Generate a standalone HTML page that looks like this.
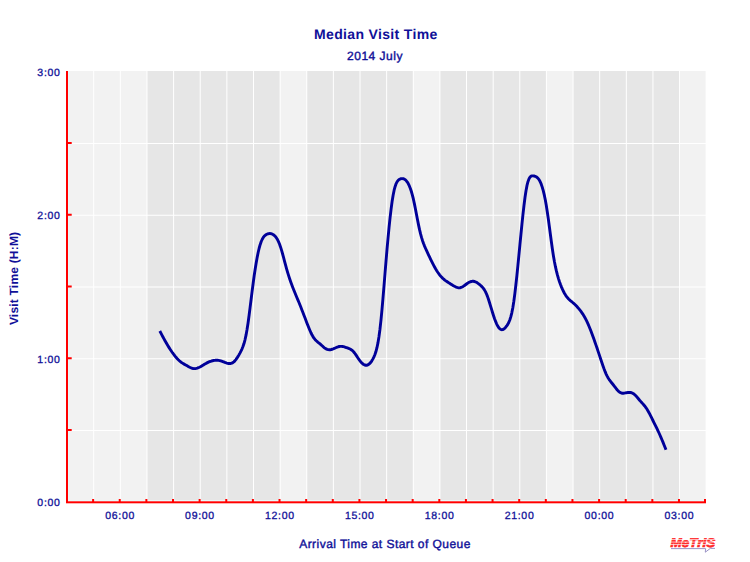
<!DOCTYPE html>
<html><head><meta charset="utf-8"><style>
html,body{margin:0;padding:0;background:#fff;}
svg{display:block;}
</style></head><body>
<svg width="750" height="562" viewBox="0 0 750 562" text-rendering="geometricPrecision">
<rect x="0" y="0" width="750" height="562" fill="#fff"/>
<rect x="68" y="71" width="78.97" height="430" fill="#f2f2f2"/>
<rect x="146.97" y="71" width="133.15" height="430" fill="#e6e6e6"/>
<rect x="280.12" y="71" width="26.63" height="430" fill="#f2f2f2"/>
<rect x="306.75" y="71" width="106.52" height="430" fill="#e6e6e6"/>
<rect x="413.27" y="71" width="26.63" height="430" fill="#f2f2f2"/>
<rect x="439.9" y="71" width="106.52" height="430" fill="#e6e6e6"/>
<rect x="546.42" y="71" width="26.63" height="430" fill="#f2f2f2"/>
<rect x="573.05" y="71" width="106.52" height="430" fill="#e6e6e6"/>
<rect x="679.57" y="71" width="26.03" height="430" fill="#f2f2f2"/>
<rect x="93.21" y="71" width="1" height="430" fill="#fff"/>
<rect x="119.84" y="71" width="1" height="430" fill="#fff"/>
<rect x="146.47" y="71" width="1" height="430" fill="#fff"/>
<rect x="173.10" y="71" width="1" height="430" fill="#fff"/>
<rect x="199.73" y="71" width="1" height="430" fill="#fff"/>
<rect x="226.36" y="71" width="1" height="430" fill="#fff"/>
<rect x="252.99" y="71" width="1" height="430" fill="#fff"/>
<rect x="279.62" y="71" width="1" height="430" fill="#fff"/>
<rect x="306.25" y="71" width="1" height="430" fill="#fff"/>
<rect x="332.88" y="71" width="1" height="430" fill="#fff"/>
<rect x="359.51" y="71" width="1" height="430" fill="#fff"/>
<rect x="386.14" y="71" width="1" height="430" fill="#fff"/>
<rect x="412.77" y="71" width="1" height="430" fill="#fff"/>
<rect x="439.40" y="71" width="1" height="430" fill="#fff"/>
<rect x="466.03" y="71" width="1" height="430" fill="#fff"/>
<rect x="492.66" y="71" width="1" height="430" fill="#fff"/>
<rect x="519.29" y="71" width="1" height="430" fill="#fff"/>
<rect x="545.92" y="71" width="1" height="430" fill="#fff"/>
<rect x="572.55" y="71" width="1" height="430" fill="#fff"/>
<rect x="599.18" y="71" width="1" height="430" fill="#fff"/>
<rect x="625.81" y="71" width="1" height="430" fill="#fff"/>
<rect x="652.44" y="71" width="1" height="430" fill="#fff"/>
<rect x="679.07" y="71" width="1" height="430" fill="#fff"/>
<rect x="68" y="430.0" width="638" height="1" fill="#fff"/>
<rect x="68" y="358.25" width="638" height="1" fill="#fff"/>
<rect x="68" y="286.5" width="638" height="1" fill="#fff"/>
<rect x="68" y="214.75" width="638" height="1" fill="#fff"/>
<rect x="68" y="143.0" width="638" height="1" fill="#fff"/>
<rect x="68" y="500" width="638" height="1" fill="#e6fafa"/>
<rect x="68" y="71" width="1" height="429" fill="#e6fafa"/>
<rect x="66" y="71" width="2" height="432" fill="#ff0000"/>
<rect x="66" y="501.3" width="640" height="2" fill="#ff0000"/>
<rect x="67" y="429.0" width="4.7" height="2" fill="#ff0000"/>
<rect x="67" y="357.25" width="4.7" height="2" fill="#ff0000"/>
<rect x="67" y="285.5" width="4.7" height="2" fill="#ff0000"/>
<rect x="67" y="213.75" width="4.7" height="2" fill="#ff0000"/>
<rect x="67" y="142.0" width="4.7" height="2" fill="#ff0000"/>
<rect x="92.11" y="499" width="2" height="3" fill="#ff0000"/>
<rect x="118.74" y="499" width="2" height="3" fill="#ff0000"/>
<rect x="145.37" y="499" width="2" height="3" fill="#ff0000"/>
<rect x="172.0" y="499" width="2" height="3" fill="#ff0000"/>
<rect x="198.63" y="499" width="2" height="3" fill="#ff0000"/>
<rect x="225.26" y="499" width="2" height="3" fill="#ff0000"/>
<rect x="251.89" y="499" width="2" height="3" fill="#ff0000"/>
<rect x="278.52" y="499" width="2" height="3" fill="#ff0000"/>
<rect x="305.15" y="499" width="2" height="3" fill="#ff0000"/>
<rect x="331.78" y="499" width="2" height="3" fill="#ff0000"/>
<rect x="358.41" y="499" width="2" height="3" fill="#ff0000"/>
<rect x="385.04" y="499" width="2" height="3" fill="#ff0000"/>
<rect x="411.67" y="499" width="2" height="3" fill="#ff0000"/>
<rect x="438.3" y="499" width="2" height="3" fill="#ff0000"/>
<rect x="464.93" y="499" width="2" height="3" fill="#ff0000"/>
<rect x="491.56" y="499" width="2" height="3" fill="#ff0000"/>
<rect x="518.19" y="499" width="2" height="3" fill="#ff0000"/>
<rect x="544.82" y="499" width="2" height="3" fill="#ff0000"/>
<rect x="571.45" y="499" width="2" height="3" fill="#ff0000"/>
<rect x="598.08" y="499" width="2" height="3" fill="#ff0000"/>
<rect x="624.71" y="499" width="2" height="3" fill="#ff0000"/>
<rect x="651.34" y="499" width="2" height="3" fill="#ff0000"/>
<rect x="677.97" y="499" width="2" height="3" fill="#ff0000"/>
<rect x="704" y="499" width="2" height="3" fill="#ff0000"/>
<path d="M159.80,330.98 L160.81,332.91 L161.83,334.83 L162.84,336.74 L163.86,338.62 L164.87,340.47 L165.89,342.28 L166.90,344.04 L167.92,345.74 L168.93,347.38 L169.94,348.97 L170.96,350.50 L171.97,351.98 L172.99,353.40 L174.00,354.76 L175.02,356.06 L176.03,357.30 L177.05,358.46 L178.06,359.53 L179.07,360.52 L180.09,361.40 L181.10,362.19 L182.12,362.90 L183.13,363.54 L184.15,364.13 L185.16,364.70 L186.18,365.26 L187.19,365.84 L188.20,366.42 L189.22,366.98 L190.23,367.50 L191.25,367.95 L192.26,368.30 L193.28,368.53 L194.29,368.61 L195.31,368.56 L196.32,368.38 L197.33,368.10 L198.35,367.72 L199.36,367.26 L200.38,366.74 L201.39,366.17 L202.41,365.57 L203.42,364.95 L204.43,364.33 L205.45,363.72 L206.46,363.15 L207.48,362.62 L208.49,362.14 L209.51,361.71 L210.52,361.33 L211.54,361.01 L212.55,360.74 L213.56,360.53 L214.58,360.37 L215.59,360.28 L216.61,360.25 L217.62,360.29 L218.64,360.40 L219.65,360.59 L220.67,360.85 L221.68,361.19 L222.69,361.56 L223.71,361.96 L224.72,362.36 L225.74,362.74 L226.75,363.07 L227.77,363.34 L228.78,363.51 L229.80,363.56 L230.81,363.44 L231.82,363.14 L232.84,362.62 L233.85,361.86 L234.87,360.85 L235.88,359.62 L236.90,358.20 L237.91,356.62 L238.93,354.91 L239.94,353.10 L240.95,351.19 L241.97,349.06 L242.98,346.55 L244.00,343.51 L245.01,339.76 L246.03,335.17 L247.04,329.56 L248.06,322.95 L249.07,315.57 L250.08,307.68 L251.10,299.53 L252.11,291.37 L253.13,283.46 L254.14,276.03 L255.16,269.17 L256.17,262.91 L257.19,257.27 L258.20,252.29 L259.21,247.99 L260.23,244.40 L261.24,241.50 L262.26,239.22 L263.27,237.47 L264.29,236.16 L265.30,235.22 L266.32,234.54 L267.33,234.05 L268.34,233.72 L269.36,233.56 L270.37,233.57 L271.39,233.76 L272.40,234.15 L273.42,234.74 L274.43,235.54 L275.44,236.59 L276.46,237.93 L277.47,239.59 L278.49,241.61 L279.50,244.04 L280.52,246.90 L281.53,250.17 L282.55,253.73 L283.56,257.49 L284.57,261.34 L285.59,265.17 L286.60,268.88 L287.62,272.38 L288.63,275.67 L289.65,278.77 L290.66,281.71 L291.68,284.51 L292.69,287.19 L293.70,289.77 L294.72,292.29 L295.73,294.75 L296.75,297.19 L297.76,299.62 L298.78,302.06 L299.79,304.54 L300.81,307.08 L301.82,309.67 L302.83,312.29 L303.85,314.94 L304.86,317.60 L305.88,320.27 L306.89,322.91 L307.91,325.53 L308.92,328.07 L309.94,330.49 L310.95,332.75 L311.96,334.81 L312.98,336.63 L313.99,338.18 L315.01,339.45 L316.02,340.53 L317.04,341.46 L318.05,342.30 L319.07,343.10 L320.08,343.94 L321.09,344.83 L322.11,345.76 L323.12,346.67 L324.14,347.53 L325.15,348.30 L326.17,348.93 L327.18,349.39 L328.20,349.65 L329.21,349.75 L330.22,349.70 L331.24,349.52 L332.25,349.24 L333.27,348.87 L334.28,348.45 L335.30,347.99 L336.31,347.54 L337.33,347.11 L338.34,346.75 L339.35,346.49 L340.37,346.35 L341.38,346.35 L342.40,346.46 L343.41,346.66 L344.43,346.94 L345.44,347.26 L346.45,347.60 L347.47,347.94 L348.48,348.31 L349.50,348.73 L350.51,349.25 L351.53,349.91 L352.54,350.73 L353.56,351.76 L354.57,352.99 L355.58,354.39 L356.60,355.89 L357.61,357.43 L358.63,358.95 L359.64,360.40 L360.66,361.70 L361.67,362.84 L362.69,363.78 L363.70,364.51 L364.71,365.01 L365.73,365.26 L366.74,365.24 L367.76,364.93 L368.77,364.33 L369.79,363.45 L370.80,362.29 L371.82,360.85 L372.83,359.13 L373.84,357.14 L374.86,354.76 L375.87,351.78 L376.89,347.98 L377.90,343.15 L378.92,337.06 L379.93,329.51 L380.95,320.34 L381.96,309.81 L382.97,298.27 L383.99,286.08 L385.00,273.59 L386.02,261.17 L387.03,249.17 L388.05,237.85 L389.06,227.33 L390.08,217.70 L391.09,209.07 L392.10,201.55 L393.12,195.24 L394.13,190.21 L395.15,186.39 L396.16,183.58 L397.18,181.61 L398.19,180.31 L399.21,179.49 L400.22,178.99 L401.23,178.68 L402.25,178.58 L403.26,178.72 L404.28,179.11 L405.29,179.79 L406.31,180.78 L407.32,182.11 L408.34,183.81 L409.35,185.92 L410.36,188.48 L411.38,191.52 L412.39,195.08 L413.41,199.20 L414.42,203.86 L415.44,208.92 L416.45,214.18 L417.46,219.48 L418.48,224.62 L419.49,229.42 L420.51,233.70 L421.52,237.43 L422.54,240.68 L423.55,243.54 L424.57,246.11 L425.58,248.46 L426.59,250.71 L427.61,252.91 L428.62,255.08 L429.64,257.23 L430.65,259.33 L431.67,261.38 L432.68,263.38 L433.70,265.32 L434.71,267.19 L435.72,268.97 L436.74,270.67 L437.75,272.26 L438.77,273.73 L439.78,275.08 L440.80,276.30 L441.81,277.38 L442.83,278.36 L443.84,279.25 L444.85,280.06 L445.87,280.82 L446.88,281.53 L447.90,282.22 L448.91,282.89 L449.93,283.54 L450.94,284.17 L451.96,284.79 L452.97,285.39 L453.98,285.98 L455.00,286.54 L456.01,287.04 L457.03,287.44 L458.04,287.72 L459.06,287.83 L460.07,287.76 L461.09,287.47 L462.10,287.01 L463.11,286.41 L464.13,285.72 L465.14,284.98 L466.16,284.23 L467.17,283.51 L468.19,282.86 L469.20,282.29 L470.22,281.83 L471.23,281.50 L472.24,281.31 L473.26,281.29 L474.27,281.46 L475.29,281.79 L476.30,282.27 L477.32,282.87 L478.33,283.58 L479.35,284.37 L480.36,285.21 L481.37,286.13 L482.39,287.17 L483.40,288.40 L484.42,289.87 L485.43,291.65 L486.45,293.80 L487.46,296.36 L488.47,299.28 L489.49,302.46 L490.50,305.80 L491.52,309.19 L492.53,312.54 L493.55,315.75 L494.56,318.72 L495.58,321.42 L496.59,323.80 L497.60,325.83 L498.62,327.47 L499.63,328.68 L500.65,329.42 L501.66,329.71 L502.68,329.59 L503.69,329.11 L504.71,328.31 L505.72,327.23 L506.73,325.93 L507.75,324.40 L508.76,322.50 L509.78,320.05 L510.79,316.88 L511.81,312.81 L512.82,307.66 L513.84,301.27 L514.85,293.66 L515.86,285.03 L516.88,275.60 L517.89,265.59 L518.91,255.22 L519.92,244.69 L520.94,234.24 L521.95,224.07 L522.97,214.42 L523.98,205.50 L524.99,197.54 L526.01,190.76 L527.02,185.37 L528.04,181.44 L529.05,178.74 L530.07,177.06 L531.08,176.17 L532.10,175.84 L533.11,175.86 L534.12,176.01 L535.14,176.28 L536.15,176.74 L537.17,177.45 L538.18,178.48 L539.20,179.90 L540.21,181.77 L541.23,184.16 L542.24,187.12 L543.25,190.68 L544.27,194.91 L545.28,199.83 L546.30,205.50 L547.31,211.95 L548.33,219.06 L549.34,226.56 L550.36,234.22 L551.37,241.80 L552.38,249.02 L553.40,255.67 L554.41,261.54 L555.43,266.68 L556.44,271.18 L557.46,275.13 L558.47,278.61 L559.48,281.72 L560.50,284.53 L561.51,287.11 L562.53,289.44 L563.54,291.55 L564.56,293.44 L565.57,295.11 L566.59,296.58 L567.60,297.85 L568.61,298.95 L569.63,299.93 L570.64,300.82 L571.66,301.67 L572.67,302.51 L573.69,303.38 L574.70,304.30 L575.72,305.29 L576.73,306.34 L577.74,307.45 L578.76,308.63 L579.77,309.88 L580.79,311.20 L581.80,312.60 L582.82,314.10 L583.83,315.71 L584.85,317.45 L585.86,319.34 L586.87,321.38 L587.89,323.59 L588.90,325.96 L589.92,328.45 L590.93,331.05 L591.95,333.75 L592.96,336.52 L593.98,339.35 L594.99,342.22 L596.00,345.14 L597.02,348.09 L598.03,351.09 L599.05,354.11 L600.06,357.16 L601.08,360.23 L602.09,363.27 L603.11,366.22 L604.12,369.04 L605.13,371.67 L606.15,374.06 L607.16,376.16 L608.18,377.97 L609.19,379.55 L610.21,380.95 L611.22,382.25 L612.24,383.50 L613.25,384.76 L614.26,386.07 L615.28,387.41 L616.29,388.73 L617.31,389.96 L618.32,391.06 L619.34,391.96 L620.35,392.62 L621.37,393.02 L622.38,393.20 L623.39,393.21 L624.41,393.11 L625.42,392.93 L626.44,392.73 L627.45,392.56 L628.47,392.45 L629.48,392.42 L630.49,392.50 L631.51,392.73 L632.52,393.13 L633.54,393.73 L634.55,394.53 L635.57,395.50 L636.58,396.60 L637.60,397.78 L638.61,399.00 L639.62,400.21 L640.64,401.37 L641.65,402.49 L642.67,403.61 L643.68,404.76 L644.70,405.98 L645.71,407.31 L646.73,408.79 L647.74,410.43 L648.75,412.22 L649.77,414.13 L650.78,416.13 L651.80,418.18 L652.81,420.25 L653.83,422.31 L654.84,424.36 L655.86,426.41 L656.87,428.48 L657.88,430.59 L658.90,432.75 L659.91,434.99 L660.93,437.30 L661.94,439.70 L662.96,442.16 L663.97,444.67 L664.99,447.22 L666.00,449.80" fill="none" stroke="#000099" stroke-width="2.9" stroke-linejoin="round" stroke-linecap="butt" shape-rendering="geometricPrecision"/>
<text x="375.8" y="39" font-family="'Liberation Sans', sans-serif" font-weight="bold" font-size="14" letter-spacing="0.34" text-anchor="middle" fill="#101098">Median Visit Time</text>
<text x="375.0" y="59.7" font-family="'Liberation Sans', sans-serif" font-size="12" letter-spacing="0.5" text-anchor="middle" fill="#101098" stroke="#101098" stroke-width="0.4">2014 July</text>
<text x="60.6" y="505.9" font-family="'Liberation Sans', sans-serif" font-size="10.5" letter-spacing="0.7" text-anchor="end" fill="#101098" stroke="#101098" stroke-width="0.3">0:00</text>
<text x="60.6" y="362.9" font-family="'Liberation Sans', sans-serif" font-size="10.5" letter-spacing="0.7" text-anchor="end" fill="#101098" stroke="#101098" stroke-width="0.3">1:00</text>
<text x="60.6" y="218.9" font-family="'Liberation Sans', sans-serif" font-size="10.5" letter-spacing="0.7" text-anchor="end" fill="#101098" stroke="#101098" stroke-width="0.3">2:00</text>
<text x="60.6" y="75.9" font-family="'Liberation Sans', sans-serif" font-size="10.5" letter-spacing="0.7" text-anchor="end" fill="#101098" stroke="#101098" stroke-width="0.3">3:00</text>
<text x="120.1" y="519.3" font-family="'Liberation Sans', sans-serif" font-size="10.5" letter-spacing="0.7" text-anchor="middle" fill="#101098" stroke="#101098" stroke-width="0.3">06:00</text>
<text x="199.99" y="519.3" font-family="'Liberation Sans', sans-serif" font-size="10.5" letter-spacing="0.7" text-anchor="middle" fill="#101098" stroke="#101098" stroke-width="0.3">09:00</text>
<text x="279.88" y="519.3" font-family="'Liberation Sans', sans-serif" font-size="10.5" letter-spacing="0.7" text-anchor="middle" fill="#101098" stroke="#101098" stroke-width="0.3">12:00</text>
<text x="359.77000000000004" y="519.3" font-family="'Liberation Sans', sans-serif" font-size="10.5" letter-spacing="0.7" text-anchor="middle" fill="#101098" stroke="#101098" stroke-width="0.3">15:00</text>
<text x="439.66" y="519.3" font-family="'Liberation Sans', sans-serif" font-size="10.5" letter-spacing="0.7" text-anchor="middle" fill="#101098" stroke="#101098" stroke-width="0.3">18:00</text>
<text x="519.5500000000001" y="519.3" font-family="'Liberation Sans', sans-serif" font-size="10.5" letter-spacing="0.7" text-anchor="middle" fill="#101098" stroke="#101098" stroke-width="0.3">21:00</text>
<text x="599.44" y="519.3" font-family="'Liberation Sans', sans-serif" font-size="10.5" letter-spacing="0.7" text-anchor="middle" fill="#101098" stroke="#101098" stroke-width="0.3">00:00</text>
<text x="679.33" y="519.3" font-family="'Liberation Sans', sans-serif" font-size="10.5" letter-spacing="0.7" text-anchor="middle" fill="#101098" stroke="#101098" stroke-width="0.3">03:00</text>
<text x="385" y="548" font-family="'Liberation Sans', sans-serif" font-size="12" letter-spacing="0.45" text-anchor="middle" fill="#101098" stroke="#101098" stroke-width="0.4">Arrival Time at Start of Queue</text>
<text transform="translate(18.3,278.4) rotate(-90)" x="0" y="0" font-family="'Liberation Sans', sans-serif" font-weight="bold" font-size="12" letter-spacing="0.2" text-anchor="middle" fill="#101098">Visit Time (H:M)</text>
<g>
<text x="670.6" y="546.8" font-family="'Liberation Sans', sans-serif" font-weight="bold" font-style="italic" font-size="12.4" fill="#ff2a2a" stroke="#ff2a2a" stroke-width="0.7" textLength="44.6" lengthAdjust="spacingAndGlyphs">MeTrIS</text>
<rect x="668" y="539.1" width="50" height="0.9" fill="#fff" opacity="0.75"/>
<rect x="668" y="541.6" width="50" height="0.9" fill="#fff" opacity="0.75"/>
<rect x="668" y="544.1" width="50" height="0.9" fill="#fff" opacity="0.75"/>
<path d="M671,548.6 L705.6,548.6 L705.3,552.2 L710.3,548.4 L715,548.4" fill="none" stroke="#9088c0" stroke-width="0.9"/>
</g>
</svg>
</body></html>
